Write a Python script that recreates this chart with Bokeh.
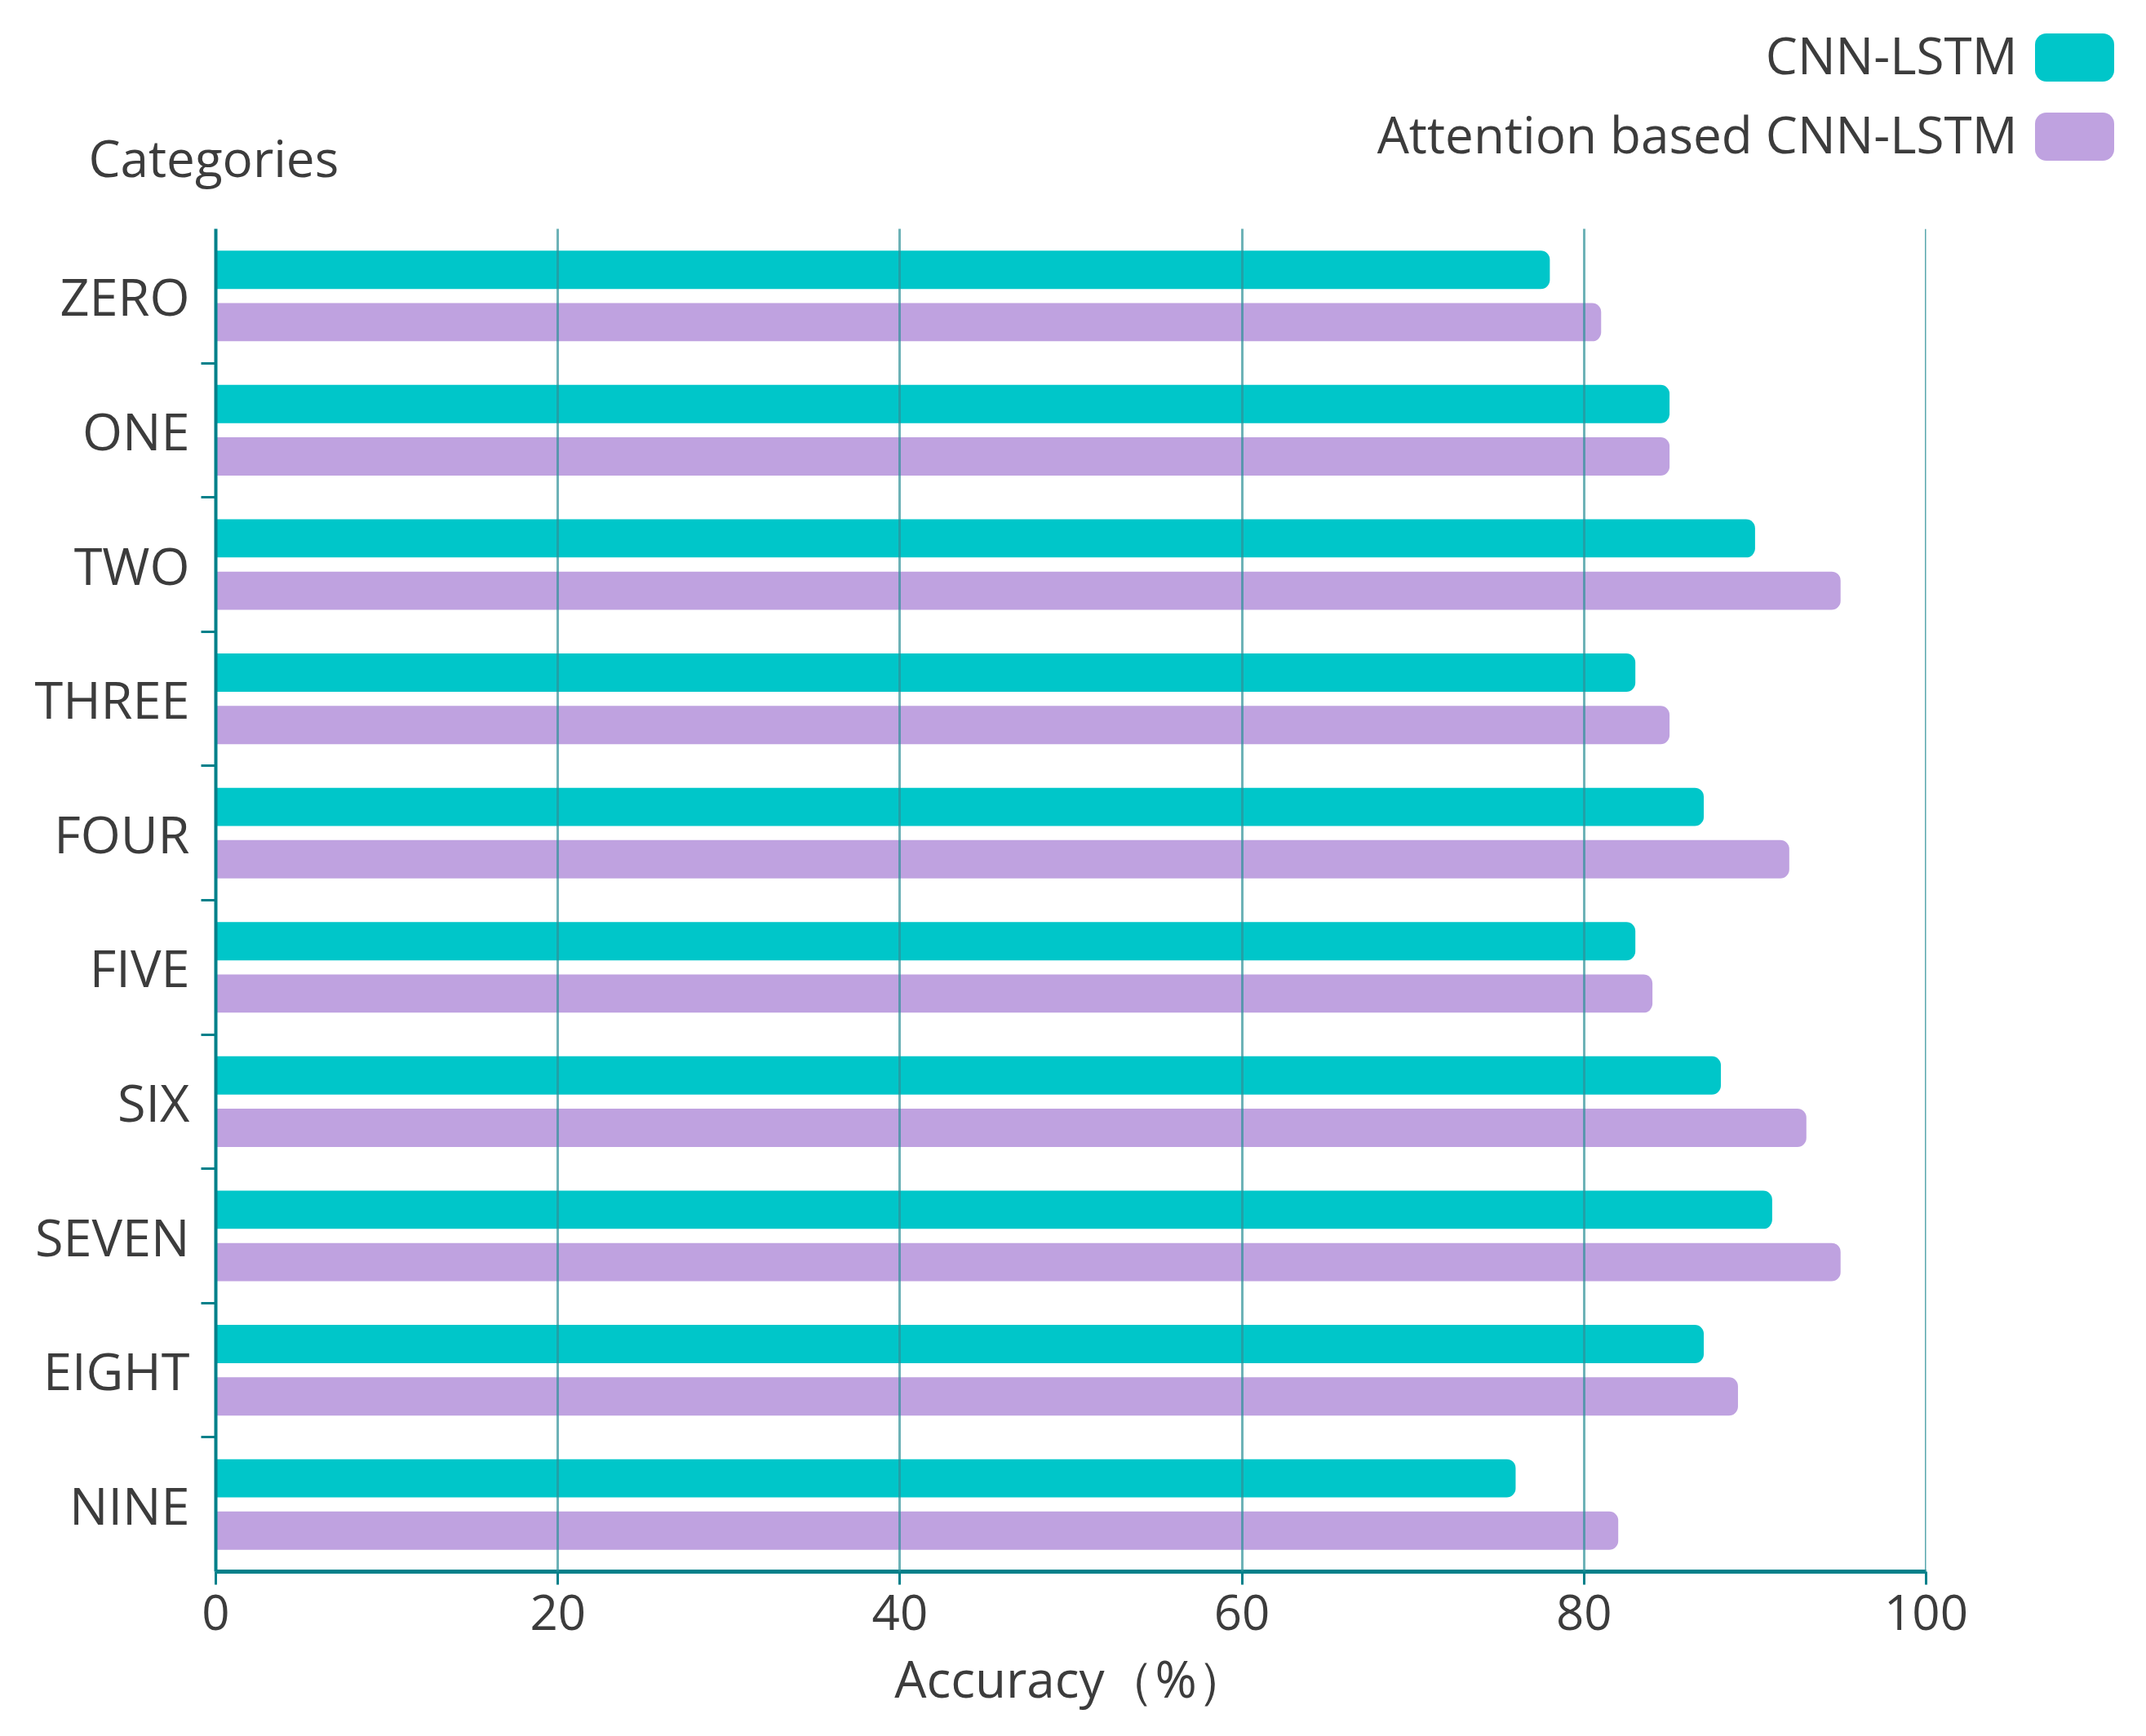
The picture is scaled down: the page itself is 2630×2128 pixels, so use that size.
from bokeh.plotting import figure
from bokeh.layouts import column
from bokeh.models import Range1d, FixedTicker, ColumnDataSource, Span
from bokeh.core.properties import value
from bokeh.embed import file_html
from bokeh.resources import INLINE

categories = ["ZERO", "ONE", "TWO", "THREE", "FOUR", "FIVE", "SIX", "SEVEN", "EIGHT", "NINE"]
cnn_lstm = [78, 85, 90, 83, 87, 83, 88, 91, 87, 76]
attention_cnn_lstm = [81, 85, 95, 85, 92, 84, 93, 95, 89, 82]
x_ticks = [0, 20, 40, 60, 80, 100]
series_names = ["CNN-LSTM", "Attention based CNN-LSTM"]
y_title = "Categories"
x_title = "Accuracy（%）"

TEAL = "#00C6C9"
PURPLE = "#BFA2E0"
AXIS = "#00808A"
GRID = "#2F9199"
TXT = "#3C3C3C"
FONT = "Open Sans"

W, H = 2614, 2112
HH = 240                      # header (legend + "Categories") height
MH = H - HH                   # main figure height
ML, MR, MT, MB = 264, 254, 40, 186

# ---------------- header figure: legend and y title ----------------
hdr = figure(width=W, height=HH, output_backend="svg", toolbar_location=None,
             x_range=Range1d(0, W), y_range=Range1d(0, HH),
             x_axis_location=None, y_axis_location=None,
             min_border=0, min_border_left=0, min_border_right=0,
             min_border_top=0, min_border_bottom=0)
hdr.frame_align = False
hdr.outline_line_color = None
hdr.grid.visible = False
hdr.background_fill_color = "white"
hdr.border_fill_color = "white"

hdr.text(x=[108], y=[48], text=[y_title], text_font=value(FONT), text_font_size="62px",
         text_color=TXT, text_align="left", text_baseline="middle")

leg = ColumnDataSource(dict(
    name=series_names,
    color=[TEAL, PURPLE],
    ty=[174, 77],
    sy=[170, 73],
    tx=[2472, 2472],
    sx=[2542, 2542],
))
hdr.text(x="tx", y="ty", text="name", source=leg, text_font=value(FONT),
         text_font_size="62px", text_color=TXT, text_align="right", text_baseline="middle")
hdr.rect(x="sx", y="sy", width=97, height=59, source=leg, fill_color="color",
         line_color=None, border_radius=14)

# ---------------- main figure ----------------
n = len(categories)
centers = [n - 0.5 - i for i in range(n)]
boundaries = [float(i) for i in range(1, n)]

src = ColumnDataSource(dict(
    y1=[c + 0.195 for c in centers],
    y2=[c - 0.195 for c in centers],
    a=cnn_lstm,
    b=attention_cnn_lstm,
))

p = figure(width=W, height=MH, output_backend="svg", toolbar_location=None,
           x_range=Range1d(x_ticks[0], x_ticks[-1]), y_range=Range1d(0, n),
           min_border_left=ML, min_border_right=MR, min_border_top=MT, min_border_bottom=MB)
p.frame_align = False
p.outline_line_color = None
p.background_fill_color = "white"
p.border_fill_color = "white"

p.hbar(y="y1", left=0, right="a", height=0.285, source=src, fill_color=TEAL,
       line_color=None, border_radius=(0, 11, 11, 0))
p.hbar(y="y2", left=0, right="b", height=0.285, source=src, fill_color=PURPLE,
       line_color=None, border_radius=(0, 11, 11, 0))

# x axis
xa = p.xaxis[0]
xa.ticker = FixedTicker(ticks=x_ticks)
xa.axis_line_color = AXIS
xa.axis_line_width = 5
xa.major_tick_line_color = AXIS
xa.major_tick_line_width = 3
xa.major_tick_out = 16
xa.major_tick_in = 0
xa.minor_tick_line_color = None
xa.major_label_text_font = FONT
xa.major_label_text_font_size = "60px"
xa.major_label_text_color = TXT
xa.major_label_standoff = 12
xa.axis_label = x_title
xa.axis_label_text_font = FONT
xa.axis_label_text_font_size = "62px"
xa.axis_label_text_font_style = "normal"
xa.axis_label_text_color = TXT
xa.axis_label_standoff = 14

# y axis
ya = p.yaxis[0]
ya.ticker = FixedTicker(ticks=centers, minor_ticks=boundaries)
ya.major_label_overrides = {c: name for c, name in zip(centers, categories)}
ya.axis_line_color = AXIS
ya.axis_line_width = 4
ya.major_tick_line_color = None
ya.major_tick_out = 0
ya.major_tick_in = 0
ya.minor_tick_line_color = AXIS
ya.minor_tick_line_width = 3
ya.minor_tick_out = 18
ya.minor_tick_in = 0
ya.major_label_text_font = FONT
ya.major_label_text_font_size = "63px"
ya.major_label_text_color = TXT
ya.major_label_standoff = 14

p.xgrid.ticker = FixedTicker(ticks=x_ticks)
p.xgrid.grid_line_color = GRID
p.xgrid.grid_line_width = 3
p.xgrid.grid_line_alpha = 0.7
p.xgrid.level = "overlay"
p.ygrid.grid_line_color = None

# right edge line at the last tick (grid skips the range end)
p.add_layout(Span(location=x_ticks[-1], dimension="height", line_color=GRID,
                  line_width=3, line_alpha=0.8, level="overlay"))

layout = column(hdr, p, spacing=0)
open("out.html", "w").write(file_html(layout, INLINE))
